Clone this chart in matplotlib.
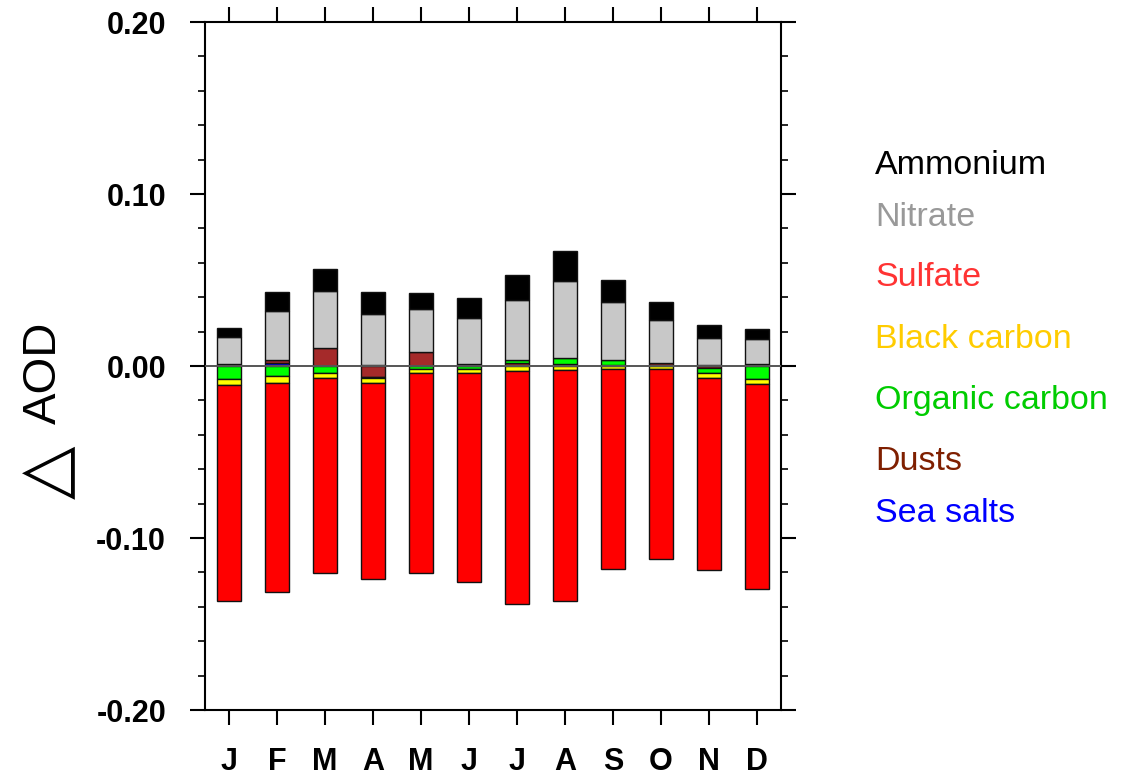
import numpy as np
import matplotlib
matplotlib.use("Agg")
import matplotlib.pyplot as plt
from matplotlib.ticker import MultipleLocator

months = ['J', 'F', 'M', 'A', 'M', 'J', 'J', 'A', 'S', 'O', 'N', 'D']
sea_salt = [0.0, 0.0015, 0.0, 0.0006, 0.0, 0.0, 0.0, 0.0, 0.0, 0.0, 0.0004, 0.0]
dust = [0.0012, 0.0022, 0.0105, -0.0062, 0.0080, 0.0010, 0.0020, 0.0010, 0.0005, 0.0015, -0.0012, 0.0012]
org_carbon = [-0.0078, -0.0060, -0.0043, -0.0010, -0.0018, -0.0018, 0.0017, 0.0038, 0.0028, 0.0, -0.0030, -0.0076]
black_carbon = [-0.0034, -0.0037, -0.0027, -0.0025, -0.0020, -0.0020, -0.0028, -0.0025, -0.0018, -0.0018, -0.0028, -0.0030]
sulfate = [-0.1257, -0.1215, -0.1133, -0.1139, -0.1167, -0.1220, -0.1355, -0.1344, -0.1165, -0.1102, -0.1115, -0.1192]
nitrate = [0.0155, 0.0281, 0.0329, 0.0298, 0.0250, 0.0267, 0.0345, 0.0448, 0.0337, 0.0254, 0.0161, 0.0145]
ammonium = [0.0056, 0.0110, 0.0132, 0.0124, 0.0097, 0.0116, 0.0145, 0.0171, 0.0130, 0.0103, 0.0071, 0.0056]

# stacking order from zero outward
components = [
    ("Sea salts", sea_salt, "#0000ff"),
    ("Dusts", dust, "#a52a2a"),
    ("Organic carbon", org_carbon, "#00ff00"),
    ("Black carbon", black_carbon, "#ffff00"),
    ("Sulfate", sulfate, "#ff0000"),
    ("Nitrate", nitrate, "#c8c8c8"),
    ("Ammonium", ammonium, "#000000"),
]

legend_items = [
    ("Ammonium", "#000000"),
    ("Nitrate", "#999999"),
    ("Sulfate", "#ff3333"),
    ("Black carbon", "#ffcc00"),
    ("Organic carbon", "#00cc00"),
    ("Dusts", "#7f1f00"),
    ("Sea salts", "#0000ff"),
]

W, H = 1132, 778
fig = plt.figure(figsize=(W / 100, H / 100), dpi=100)
L, R, T, B = 205, 781, 22, 710
ax = fig.add_axes([L / W, 1 - B / H, (R - L) / W, (B - T) / H])

x = np.arange(1, 13)
pos = np.zeros(12)
neg = np.zeros(12)
for name, vals, col in components:
    v = np.array(vals)
    bottom = np.where(v >= 0, pos, neg)
    ax.bar(x, v, width=0.52, bottom=bottom, color=col, edgecolor="#111111",
           linewidth=1.0, zorder=2)
    pos = pos + np.where(v >= 0, v, 0)
    neg = neg + np.where(v < 0, v, 0)

ax.axhline(0, color="#555555", linewidth=1.4, zorder=3)

ax.set_xlim(0.5, 12.5)
ax.set_ylim(-0.2, 0.2)
ax.set_xticks(x)
ax.set_xticklabels(months)
ax.set_yticks([-0.2, -0.1, 0.0, 0.1, 0.2])
ax.set_yticklabels(["-0.20", "-0.10", "0.00", "0.10", "0.20"])
ax.yaxis.set_minor_locator(MultipleLocator(0.02))

for s in ax.spines.values():
    s.set_linewidth(1.5)

ax.tick_params(axis="both", which="major", direction="out", length=11, width=1.5,
               top=True, right=True, labelsize=22)
ax.tick_params(axis="y", which="minor", direction="out", length=5, width=1.2,
               left=True, right=True)
ax.tick_params(axis="y", which="major", pad=17)
ax.tick_params(axis="x", which="major", pad=16)
for lab in ax.get_xticklabels() + ax.get_yticklabels():
    lab.set_fontweight("bold")
    lab.set_family(["Liberation Sans", "DejaVu Sans"])

fig.text(44 / W, 1 - 373 / H, "AOD", rotation=90, fontsize=34,
         ha="center", va="center", family=["Liberation Sans", "DejaVu Sans"])
fig.text(46 / W, 1 - 472 / H, "△", rotation=90, fontsize=50,
         ha="center", va="center", family=["DejaVu Sans"])

ys = [165, 217, 278, 340, 400, 462, 514]
for (txt, col), yy in zip(legend_items, ys):
    fig.text(875 / W, 1 - yy / H, txt, color=col, fontsize=24.5,
             ha="left", va="center", family=["Liberation Sans", "DejaVu Sans"])

fig.savefig("out.png", dpi=100)
